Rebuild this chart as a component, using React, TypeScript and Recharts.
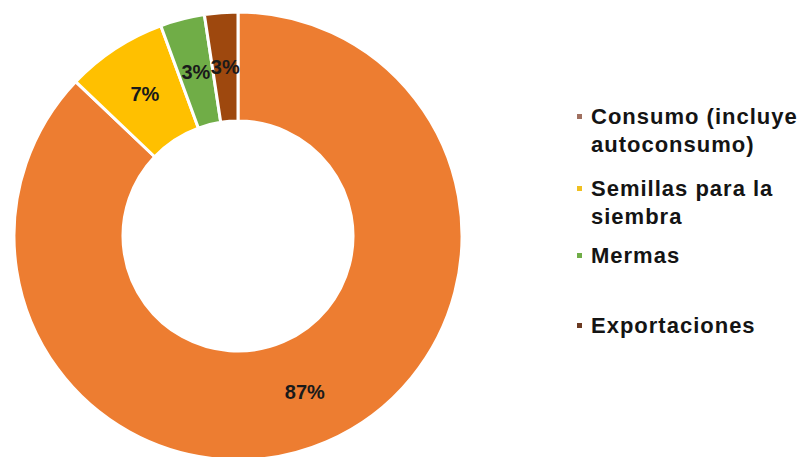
import React from "react";
import { PieChart, Pie, Cell, Legend } from "recharts";

const categories = ["Consumo (incluye autoconsumo)", "Semillas para la siembra", "Mermas", "Exportaciones"];
const legendLines = [["Consumo (incluye", "autoconsumo)"], ["Semillas para la", "siembra"], ["Mermas"], ["Exportaciones"]];
const values = [87.1, 7.3, 3.2, 2.4];
const valueLabels = ["87%", "7%", "3%", "3%"];
const colors = ["#ED7D31", "#FFC000", "#70AD47", "#9E480E"];
const markerColors = ["#a07060", "#f0c020", "#70AD47", "#6b3a22"];

const data = categories.map((name, i) => ({ name, value: values[i] }));

const FONT = "'Liberation Sans', Arial, sans-serif";
const RADIAN = Math.PI / 180;
const legendTops = [103, 175, 242, 312];

const renderLabel = (props: any) => {
  const { cx, cy, midAngle, innerRadius, outerRadius, index } = props;
  const r = (innerRadius + outerRadius) / 2;
  const x = cx + r * Math.cos(-midAngle * RADIAN);
  const y = cy + r * Math.sin(-midAngle * RADIAN);
  return (
    <text
      x={x}
      y={y}
      textAnchor="middle"
      dominantBaseline="central"
      fontFamily={FONT}
      fontWeight="bold"
      fontSize={20}
      fill="#1a1a1a"
    >
      {valueLabels[index]}
    </text>
  );
};

const renderLegend = () => (
  <div style={{ position: "relative", width: 803, height: 457 }}>
    {legendLines.map((lines, i) => (
      <div
        key={i}
        style={{
          position: "absolute",
          left: 577,
          top: legendTops[i],
          fontFamily: FONT,
          fontWeight: "bold",
          fontSize: 22,
          lineHeight: "28px",
          letterSpacing: 1,
          color: "#141414",
          whiteSpace: "nowrap",
        }}
      >
        <span
          style={{
            position: "absolute",
            left: 0,
            top: 11,
            width: 5,
            height: 5,
            background: markerColors[i],
          }}
        />
        <div style={{ marginLeft: 14 }}>
          {lines.map((l, j) => (
            <div key={j}>{l}</div>
          ))}
        </div>
      </div>
    ))}
  </div>
);

export default function App() {
  return (
    <div style={{ position: "absolute", left: 0, top: 0, background: "#fff" }}>
      <PieChart width={803} height={457} margin={{ top: 0, right: 0, bottom: 0, left: 0 }}>
        <Pie
          data={data}
          dataKey="value"
          nameKey="name"
          cx={238}
          cy={236}
          innerRadius={115}
          outerRadius={224}
          startAngle={90}
          endAngle={-270}
          stroke="#ffffff"
          strokeWidth={3}
          label={renderLabel}
          labelLine={false}
          isAnimationActive={false}
        >
          {data.map((d, i) => (
            <Cell key={d.name} fill={colors[i]} />
          ))}
        </Pie>
        <Legend
          content={renderLegend}
          wrapperStyle={{ position: "absolute", left: 0, top: 0, width: 803, height: 457 }}
        />
      </PieChart>
    </div>
  );
}
